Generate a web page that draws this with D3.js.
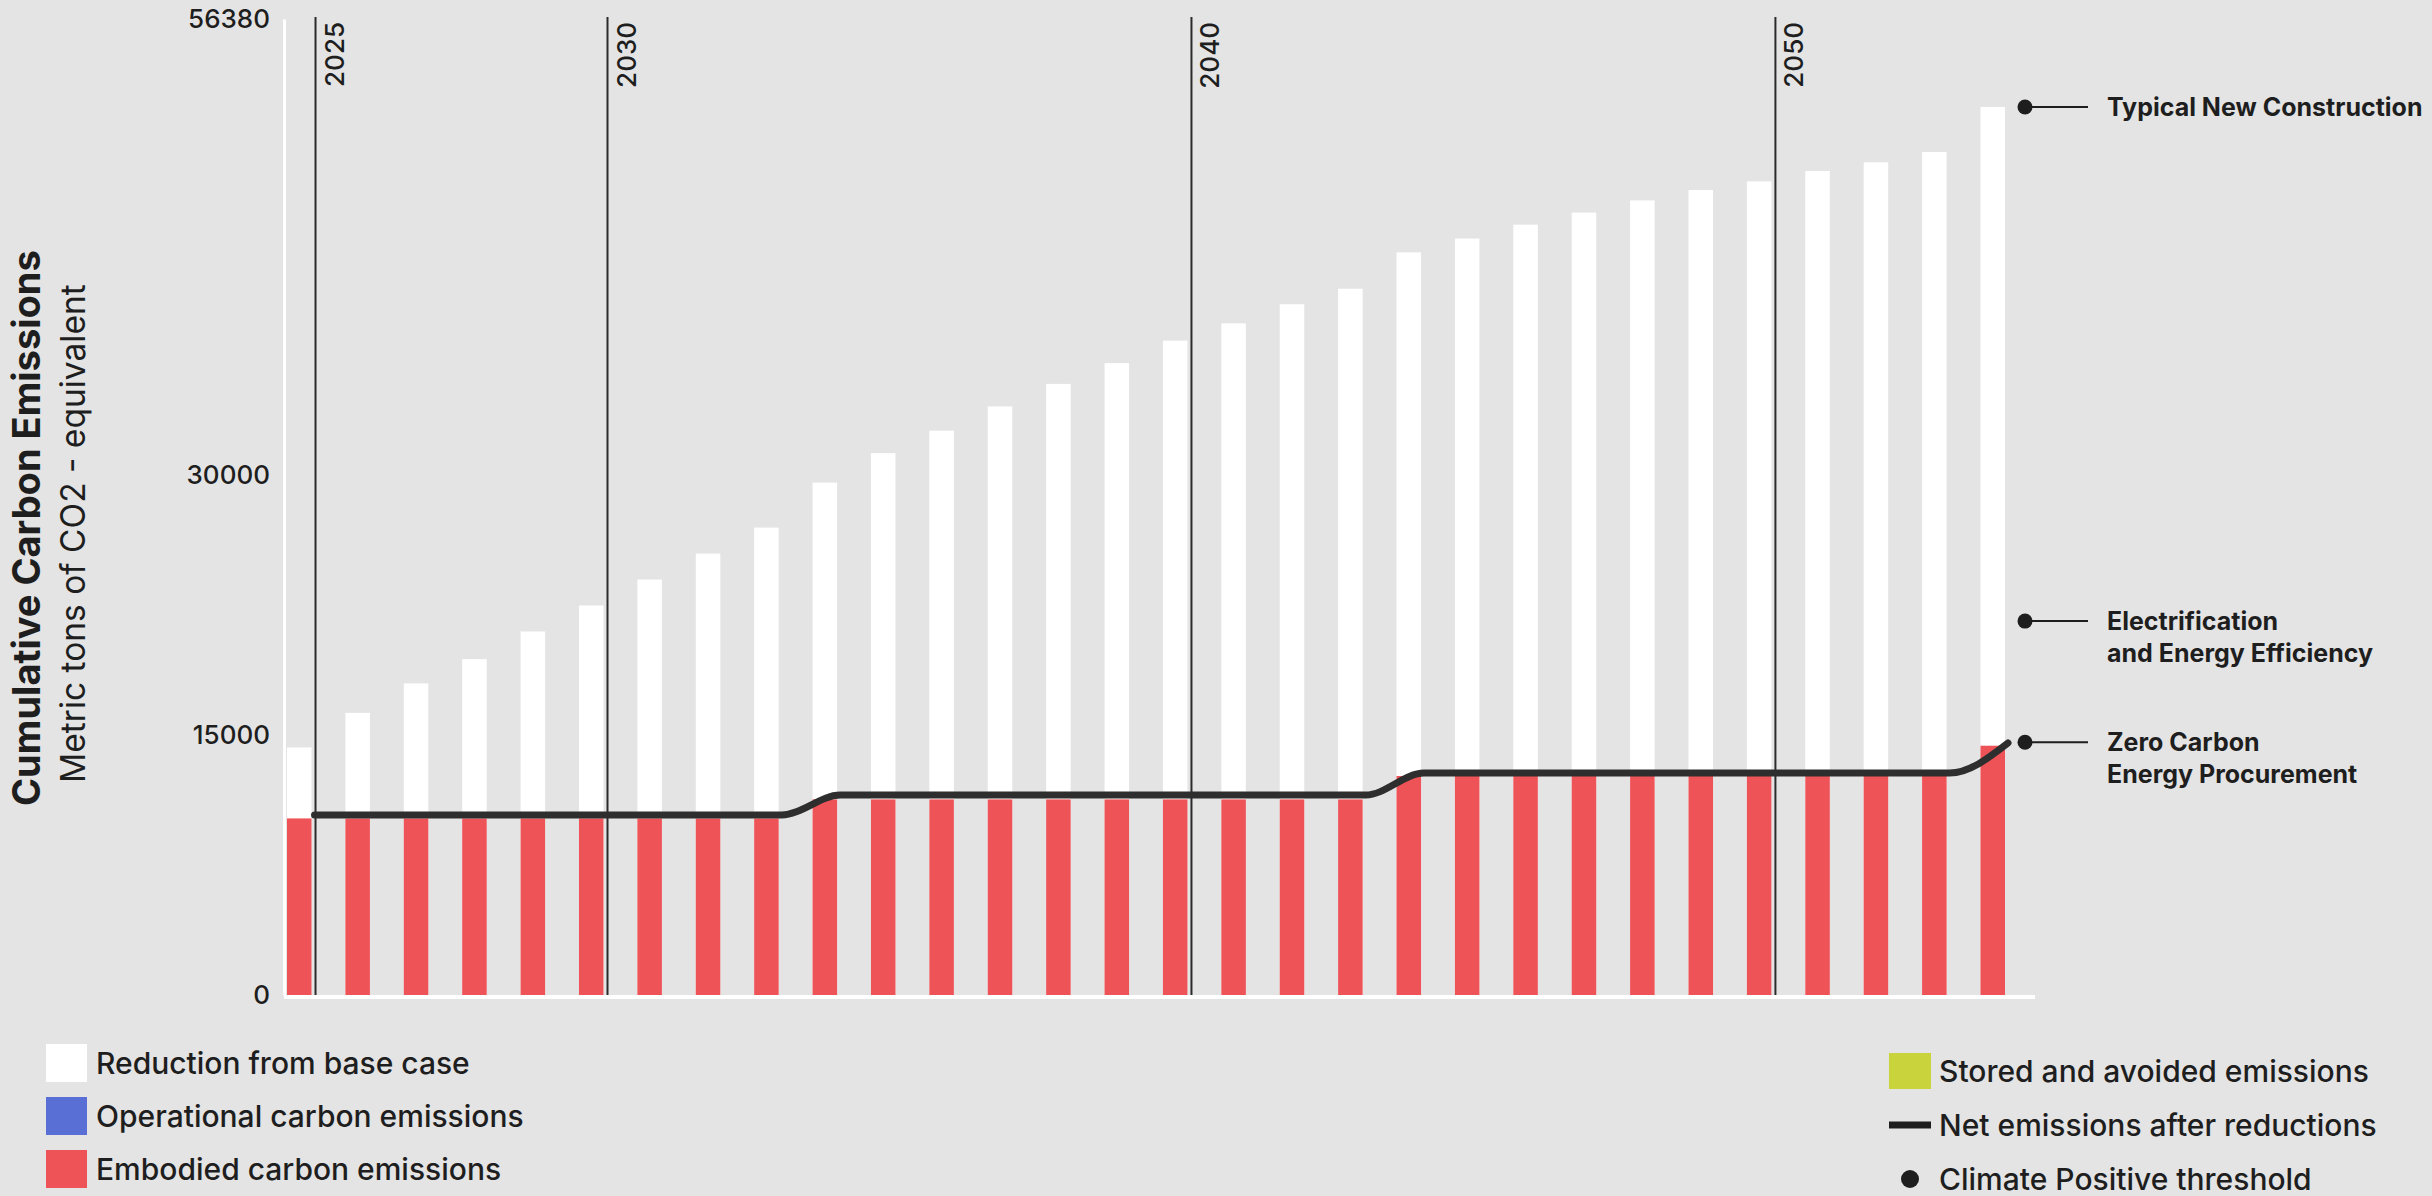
<!DOCTYPE html>
<html>
<head>
<meta charset="utf-8">
<script src="https://cdn.jsdelivr.net/npm/d3@7"></script>
<style>
  html, body { margin: 0; padding: 0; background: #e4e4e4; }
  svg { display: block; font-family: Inter, "Noto Sans", sans-serif; }
</style>
</head>
<body>
<svg id="chart" width="2432" height="1196"></svg>
<script>
// Years on the horizontal axis (one bar per year)
const years = [2025, 2026, 2027, 2028, 2029, 2030, 2031, 2032, 2033, 2034,
               2035, 2036, 2037, 2038, 2039, 2040, 2041, 2042, 2043, 2044,
               2045, 2046, 2047, 2048, 2049, 2050, 2051, 2052, 2053, 2054];

// Cumulative emissions of the base case (top of each white bar), tCO2e
const baseCase = [14300, 16300, 18000, 19400, 21000, 22500, 24000, 25500, 27000, 29600,
                  31300, 32600, 34000, 35300, 36500, 37800, 38800, 39900, 40800, 42900,
                  43700, 44500, 45200, 45900, 46500, 47000, 47600, 48100, 48700, 51300];

// Cumulative embodied carbon (red bars), tCO2e
const embodied = [10200, 10200, 10200, 10200, 10200, 10200, 10200, 10200, 10200, 11300,
                  11300, 11300, 11300, 11300, 11300, 11300, 11300, 11300, 11300, 12650,
                  12650, 12650, 12650, 12650, 12650, 12650, 12650, 12650, 12650, 14400];

// Net emissions after reductions (black line), tCO2e
const netEmissions = [10400, 10400, 10400, 10400, 10400, 10400, 10400, 10400, 10400, 11550,
                      11550, 11550, 11550, 11550, 11550, 11550, 11550, 11550, 11550, 12820,
                      12820, 12820, 12820, 12820, 12820, 12820, 12820, 12820, 12820, 14560];

// Milestone years marked with vertical rules
const milestoneYears = [2025, 2030, 2040, 2050];

// Value axis
const yMax = 56380;
const yTicks = [0, 15000, 30000, 56380];

// Climate Positive thresholds annotated at the right
const thresholdLabels = [["Typical New Construction"],
                         ["Electrification", "and Energy Efficiency"],
                         ["Zero Carbon", "Energy Procurement"]];
const thresholdValues = [51300, 21600, 14600];

// Legend entries
const legendLeft = ["Reduction from base case", "Operational carbon emissions", "Embodied carbon emissions"];
const legendLeftColors = ["#ffffff", "#5a6fd6", "#ee5358"];
const legendRight = ["Stored and avoided emissions", "Net emissions after reductions", "Climate Positive threshold"];

const COLORS = { white: "#ffffff", red: "#ee5358", ink: "#1e1e1e", line: "#2e2e2e", rule: "#2b2b2b", stored: "#c9d43c" };

const svg = d3.select("#chart");

const x = d3.scaleBand().domain(years).range([287, 2005]).paddingInner(0.58).paddingOuter(0);
const y = d3.scaleLinear().domain([0, yMax]).range([995, 19]);

const rows = years.map((yr, i) => ({ year: yr, base: baseCase[i], emb: embodied[i], net: netEmissions[i] }));

// White bars: full base-case height
svg.append("g").selectAll("rect").data(rows).join("rect")
  .attr("x", d => x(d.year))
  .attr("width", x.bandwidth())
  .attr("y", d => y(d.base))
  .attr("height", d => y(0) - y(d.base))
  .attr("fill", COLORS.white);

// Red bars: embodied carbon
svg.append("g").selectAll("rect").data(rows).join("rect")
  .attr("x", d => x(d.year))
  .attr("width", x.bandwidth())
  .attr("y", d => y(d.emb))
  .attr("height", d => y(0) - y(d.emb))
  .attr("fill", COLORS.red);

// Milestone rules with rotated year labels
const ruleX = yr => x(yr) + x.bandwidth() + 4;
const rules = svg.append("g").selectAll("g").data(milestoneYears).join("g");
rules.append("line")
  .attr("x1", d => ruleX(d)).attr("x2", d => ruleX(d))
  .attr("y1", 17).attr("y2", y(0) + 2)
  .attr("stroke", COLORS.rule).attr("stroke-width", 2);
rules.append("text")
  .attr("transform", d => `translate(${ruleX(d) + 28},22) rotate(-90)`)
  .attr("text-anchor", "end")
  .attr("font-size", 26)
  .attr("font-weight", 500)
  .attr("fill", COLORS.ink)
  .text(d => d);

// Value axis (white spine) and base line
const yAxis = svg.append("g")
  .attr("transform", "translate(284,0)")
  .call(d3.axisLeft(y).tickValues(yTicks).tickFormat(d3.format("d")).tickSize(0).tickSizeOuter(0).tickPadding(14));
yAxis.select(".domain").attr("stroke", COLORS.white).attr("stroke-width", 3);
yAxis.selectAll("text")
  .attr("font-size", 26).attr("font-weight", 500)
  .attr("fill", COLORS.ink).attr("font-family", "Inter, sans-serif");

svg.append("line")
  .attr("x1", 284).attr("x2", x.range()[1] + 30)
  .attr("y1", y(0) + 2).attr("y2", y(0) + 2)
  .attr("stroke", COLORS.white).attr("stroke-width", 4);

// Net emissions line
const netLine = d3.line()
  .x(d => x(d.year) + x.bandwidth() + 3)
  .y(d => y(d.net))
  .curve(d3.curveMonotoneX);
svg.append("path")
  .datum(rows)
  .attr("d", netLine)
  .attr("fill", "none")
  .attr("stroke", COLORS.line)
  .attr("stroke-width", 7)
  .attr("stroke-linecap", "round");

// Threshold annotations
const dotX = x.range()[1] + 20;
const ann = svg.append("g").selectAll("g").data(thresholdValues).join("g");
ann.append("line")
  .attr("x1", dotX).attr("x2", dotX + 63)
  .attr("y1", d => y(d)).attr("y2", d => y(d))
  .attr("stroke", COLORS.ink).attr("stroke-width", 2);
ann.append("circle")
  .attr("cx", dotX).attr("cy", d => y(d)).attr("r", 7.5)
  .attr("fill", COLORS.ink);
ann.append("text")
  .attr("x", dotX + 82)
  .attr("y", d => y(d))
  .attr("font-size", 25)
  .attr("font-weight", 700)
  .attr("fill", COLORS.ink)
  .selectAll("tspan").data((d, i) => thresholdLabels[i]).join("tspan")
  .attr("x", dotX + 82)
  .attr("dy", (d, j) => j === 0 ? "0.35em" : 32)
  .text(d => d);

// Axis titles
svg.append("text")
  .attr("transform", "translate(40,806) rotate(-90)")
  .attr("font-size", 38).attr("font-weight", 700).attr("fill", COLORS.ink)
  .text("Cumulative Carbon Emissions");
svg.append("text")
  .attr("transform", "translate(85,783) rotate(-90)")
  .attr("font-size", 33.5).attr("fill", COLORS.ink)
  .text("Metric tons of CO2 - equivalent");

// Left legend
const legL = svg.append("g").selectAll("g").data(legendLeft).join("g")
  .attr("transform", (d, i) => `translate(46,${1063 + i * 53})`);
legL.append("rect")
  .attr("x", 0).attr("y", -19).attr("width", 41).attr("height", 38)
  .attr("fill", (d, i) => legendLeftColors[i]);
legL.append("text")
  .attr("x", 50).attr("dy", "0.35em")
  .attr("font-size", 30).attr("font-weight", 500).attr("fill", COLORS.ink)
  .text(d => d);

// Right legend
const legR = svg.append("g").selectAll("g").data(legendRight).join("g")
  .attr("transform", (d, i) => `translate(1889,${1071 + i * 54})`);
legR.filter((d, i) => i === 0).append("rect")
  .attr("x", 0).attr("y", -18).attr("width", 42).attr("height", 36)
  .attr("fill", COLORS.stored);
legR.filter((d, i) => i === 1).append("line")
  .attr("x1", 0).attr("x2", 42).attr("y1", 0).attr("y2", 0)
  .attr("stroke", COLORS.ink).attr("stroke-width", 7);
legR.filter((d, i) => i === 2).append("circle")
  .attr("cx", 21).attr("cy", 0).attr("r", 9)
  .attr("fill", COLORS.ink);
legR.append("text")
  .attr("x", 50).attr("dy", "0.35em")
  .attr("font-size", 30).attr("font-weight", 500).attr("fill", COLORS.ink)
  .text(d => d);
</script>
</body>
</html>
